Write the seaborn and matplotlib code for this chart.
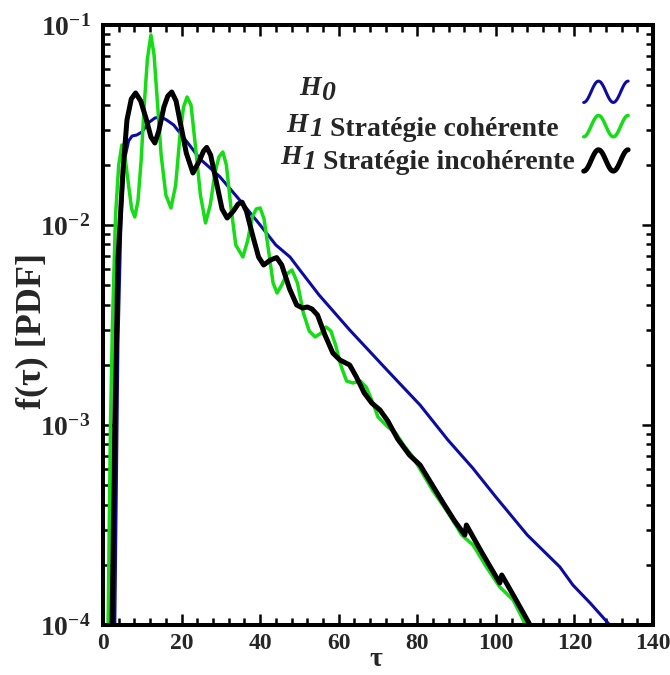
import numpy as np
import pandas as pd
import matplotlib
matplotlib.use("Agg")
import matplotlib.pyplot as plt
import seaborn as sns
from matplotlib.lines import Line2D
from matplotlib.legend_handler import HandlerBase
from matplotlib.ticker import MultipleLocator, LogLocator, LogFormatterMathtext

# ===== DATA (f values as log10) =====
h0_tau = [3.0, 3.8, 4.6, 5.4, 6.5, 7.4, 8.6, 9.9, 11.5, 13.2, 14.8, 16.2, 18.0, 19.6,
          22.0, 24.7, 27.0, 29.8, 35.0, 40.0, 44.0, 47.6, 50.1, 55.0, 62.8, 73.0,
          80.7, 87.8, 94.1, 100.0, 108.0, 116.3, 119.6, 124.0, 129.0]
h0_log = [-4.0, -2.6, -1.95, -1.68, -1.58, -1.555, -1.55, -1.535, -1.49, -1.465, -1.46,
          -1.475, -1.5, -1.54, -1.6, -1.67, -1.71, -1.76, -1.88, -2.0, -2.1, -2.16,
          -2.225, -2.35, -2.525, -2.74, -2.9, -3.075, -3.215, -3.36, -3.55, -3.71,
          -3.8, -3.89, -4.0]

coh_tau = [1.3, 1.9, 2.4, 3.2, 4.0, 4.8, 5.6, 6.5, 7.3, 8.1, 8.9, 9.7, 10.5, 11.3,
           12.2, 13.0, 13.9, 14.8, 16.0, 17.3, 18.5, 19.6, 20.5, 21.4, 22.4, 23.5,
           24.8, 26.1, 27.3, 28.5, 29.5, 30.5, 31.4, 32.5, 33.8, 35.6, 36.8, 38.0,
           39.0, 40.0, 41.0, 42.3, 43.3, 44.3, 45.5, 46.8, 48.1, 49.5, 51.0, 52.5,
           54.0, 55.5, 56.8, 58.0, 59.2, 60.5, 62.0, 63.6, 65.5, 67.0, 68.5, 70.0,
           72.5, 74.5, 76.5, 78.5, 80.7, 84.0, 86.5, 89.0, 91.3, 94.2, 97.6, 101.0,
           104.4, 106.6, 107.5]
coh_log = [-4.0, -3.0, -2.5, -1.95, -1.7, -1.6, -1.66, -1.8, -1.92, -1.96, -1.88,
           -1.68, -1.4, -1.17, -1.05, -1.15, -1.4, -1.65, -1.85, -1.915, -1.8, -1.55,
           -1.41, -1.36, -1.4, -1.6, -1.85, -1.99, -1.9, -1.74, -1.66, -1.635, -1.7,
           -1.9, -2.1, -2.16, -2.08, -1.96, -1.92, -1.915, -1.97, -2.15, -2.29, -2.34,
           -2.3, -2.245, -2.225, -2.29, -2.44, -2.53, -2.56, -2.54, -2.51, -2.53,
           -2.6, -2.7, -2.78, -2.79, -2.78, -2.81, -2.88, -2.96, -3.01, -3.04, -3.1,
           -3.15, -3.22, -3.33, -3.4, -3.475, -3.55, -3.6, -3.71, -3.81, -3.875,
           -3.96, -4.0]

inc_tau = [2.3, 3.0, 3.8, 5.1, 6.1, 7.2, 8.3, 9.6, 11.0, 12.2, 13.2, 14.2, 15.5,
           16.5, 17.5, 18.6, 19.8, 21.2, 22.9, 24.5, 25.6, 26.4, 27.4, 28.8, 30.3,
           31.6, 33.2, 34.4, 35.4, 36.5, 38.2, 39.6, 40.9, 42.6, 44.2, 45.5, 47.5,
           49.3, 50.8, 52.0, 53.2, 54.6, 56.5, 58.5, 60.3, 62.8, 64.5, 66.5, 68.4,
           70.5, 72.5, 75.0, 78.0, 80.7, 83.5, 86.6, 89.5, 92.1, 92.5, 96.5, 101.0,
           101.5, 105.0, 108.7]
inc_log = [-4.0, -3.0, -2.175, -1.725, -1.475, -1.37, -1.34, -1.38, -1.47, -1.56,
           -1.59, -1.53, -1.41, -1.355, -1.335, -1.38, -1.5, -1.64, -1.74, -1.68,
           -1.63, -1.612, -1.65, -1.78, -1.92, -1.965, -1.93, -1.895, -1.886, -1.93,
           -2.06, -2.16, -2.2, -2.175, -2.163, -2.2, -2.32, -2.4, -2.415, -2.41,
           -2.42, -2.45, -2.55, -2.64, -2.675, -2.7, -2.76, -2.84, -2.89, -2.925,
           -2.98, -3.07, -3.15, -3.2, -3.29, -3.39, -3.48, -3.55, -3.5, -3.64, -3.79,
           -3.75, -3.87, -4.0]

series_labels = ["H0", "H1 cohérente", "H1 incohérente"]
series_colors = ["#0c0ca0", "#16dc16", "#000000"]
series_widths = [2.2, 2.5, 3.6]

# legend text: (subscript digit, rest of label)
legend_digits = ["0", "1", "1"]
legend_rest = ["", " Stratégie cohérente", " Stratégie incohérente"]

# ===== STYLE =====
sns.set_style("ticks")
plt.rcParams["font.family"] = ["Liberation Serif", "DejaVu Serif"]
plt.rcParams["font.weight"] = "bold"
plt.rcParams["mathtext.fontset"] = "custom"
plt.rcParams["mathtext.rm"] = "Liberation Serif:bold"
plt.rcParams["mathtext.it"] = "Liberation Serif:italic:bold"
plt.rcParams["mathtext.bf"] = "Liberation Serif:bold"

frames = []
for lab, t, lg in zip(series_labels, [h0_tau, coh_tau, inc_tau], [h0_log, coh_log, inc_log]):
    frames.append(pd.DataFrame({"tau": t, "f": 10.0 ** np.array(lg), "serie": lab}))
df = pd.concat(frames, ignore_index=True)

fig = plt.figure(figsize=(6.7, 6.75), dpi=100)
ax = fig.add_axes([103 / 670, 1 - 625 / 675, 550 / 670, 600 / 675])

for lab, col, lw in zip(series_labels, series_colors, series_widths):
    sns.lineplot(data=df[df["serie"] == lab], x="tau", y="f", color=col,
                 linewidth=lw, sort=False, estimator=None, ax=ax, legend=False)

ax.set_yscale("log")
ax.set_xlim(0, 140)
ax.set_ylim(1e-4, 1e-1)

ax.xaxis.set_major_locator(MultipleLocator(20))
ax.xaxis.set_minor_locator(MultipleLocator(4))
ax.yaxis.set_major_locator(LogLocator(base=10))
ax.yaxis.set_minor_locator(LogLocator(base=10, subs=np.arange(2, 10)))
ax.yaxis.set_major_formatter(LogFormatterMathtext())

ax.tick_params(which="both", direction="in", top=True, right=True, width=1.8,
               color="black")
ax.tick_params(which="major", length=8)
ax.tick_params(which="minor", length=5)
ax.tick_params(axis="x", which="major", labelsize=17, pad=6)
ax.tick_params(axis="y", which="major", labelsize=20, pad=9)
for lbl in ax.get_xticklabels() + ax.get_yticklabels():
    lbl.set_fontweight("bold")

for spine in ax.spines.values():
    spine.set_linewidth(2.9)
    spine.set_color("black")

ax.set_xlabel("")
ax.set_ylabel("")
fig.text(376 / 670, 1 - 660 / 675, "τ", fontsize=20, fontweight="bold",
         ha="center", va="center")
fig.text(32 / 670, 1 - 331 / 675, "f(τ) [PDF]", fontsize=26, fontweight="bold",
         ha="center", va="center", rotation=90)


# ===== LEGEND: wavy handles + free text =====
class WaveHandler(HandlerBase):
    def create_artists(self, legend, orig_handle, xdescent, ydescent, width, height,
                       fontsize, trans):
        t = np.linspace(-0.5 * np.pi, 2.5 * np.pi, 60)
        xs = -xdescent + width * (t - t[0]) / (t[-1] - t[0])
        ys = -ydescent + height / 2 + height * 0.5 * np.sin(t)
        line = Line2D(xs, ys, color=orig_handle.get_color(),
                      linewidth=orig_handle.get_linewidth(), solid_capstyle="round")
        line.set_transform(trans)
        return [line]


handles = [Line2D([], [], color=c, linewidth=w) for c, w in zip(series_colors, series_widths)]
ax.legend(handles, ["", "", ""], handler_map={Line2D: WaveHandler()},
          loc="upper right", bbox_to_anchor=(0.975, 0.925), frameon=False,
          handlelength=2.0, handleheight=1.1, handletextpad=0, labelspacing=0.5,
          borderpad=0, fontsize=16)

label_x = [0.356, 0.334, 0.322]
label_y = [0.883, 0.822, 0.768]
for x, y, dig, rest in zip(label_x, label_y, legend_digits, legend_rest):
    h = ax.text(x, y, "H", transform=ax.transAxes, fontsize=20, style="italic",
                fontweight="bold", va="baseline", ha="left")
    d = ax.annotate(dig, xy=(1, 0), xycoords=h, xytext=(0.5, 1), textcoords="offset points",
                    fontsize=20, style="italic", fontweight="bold", va="baseline", ha="left")
    if rest:
        ax.annotate(rest, xy=(1, 0), xycoords=d, fontsize=20, fontweight="bold",
                    va="bottom", ha="left")

fig.savefig("out.png", dpi=100)
